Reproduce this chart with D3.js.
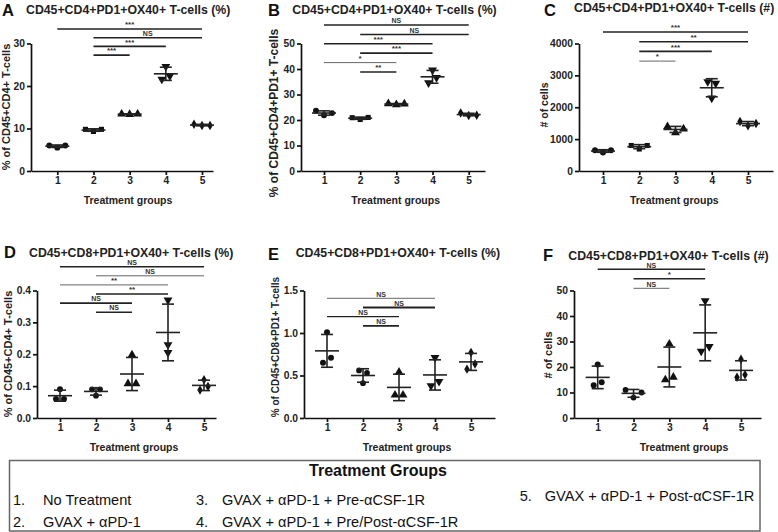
<!DOCTYPE html>
<html>
<head>
<meta charset="utf-8">
<script src="https://cdnjs.cloudflare.com/ajax/libs/d3/7.8.5/d3.min.js"></script>
<style>
  html, body { margin: 0; padding: 0; background: #fff; }
  svg { display: block; }
  text { font-family: "Liberation Sans", Arial, sans-serif; }
</style>
</head>
<body>
<svg id="chart" width="778" height="532"></svg>
<script>
// ---------------- DATA ----------------
const groups = [1, 2, 3, 4, 5];
const xAxisLabel = "Treatment groups";

// Panel A
const titleA = "CD45+CD4+PD1+OX40+ T-cells (%)";
const yLabelA = "% of CD45+CD4+ T-cells";
const yTicksA = [0, 10, 20, 30];
const valuesA = [[6.0, 5.5, 6.0], [9.8, 9.3, 9.8], [13.4, 13.3, 13.4], [24.6, 21.6, 22.4], [11.0, 10.7, 10.7]];
const sigA = [[1, 5, "***"], [2, 5, "NS"], [2, 4, "***"], [2, 3, "***"]];

// Panel B
const titleB = "CD45+CD4+PD1+OX40+ T-cells (%)";
const yLabelB = "% of CD45+CD4+PD1+ T-cells";
const yTicksB = [0, 10, 20, 30, 40, 50];
const valuesB = [[23.6, 21.9, 22.7], [20.9, 20.2, 21.0], [26.4, 26.0, 26.3], [39.6, 34.6, 36.6], [22.7, 21.8, 21.9]];
const sigB = [[1, 5, "NS"], [2, 5, "NS"], [1, 4, "***"], [2, 4, "***"], [1, 3, "*"], [2, 3, "**"]];

// Panel C
const titleC = "CD45+CD4+PD1+OX40+ T-cells (#)";
const yLabelC = "# of cells";
const yTicksC = [0, 1000, 2000, 3000, 4000];
const valuesC = [[650, 580, 650], [800, 690, 800], [1390, 1200, 1320], [2800, 2750, 2285], [1550, 1420, 1490]];
const sigC = [[1, 5, "***"], [2, 5, "**"], [2, 4, "***"], [2, 3, "*"]];

// Panel D
const titleD = "CD45+CD8+PD1+OX40+ T-cells (%)";
const yLabelD = "% of CD45+CD4+ T-cells";
const yTicksD = [0, 0.1, 0.2, 0.3, 0.4];
const valuesD = [[0.09, 0.06, 0.06], [0.09, 0.07, 0.09], [0.198, 0.108, 0.108], [0.37, 0.23, 0.205], [0.12, 0.088, 0.099]];
const sigD = [[1, 5, "NS"], [2, 5, "NS"], [1, 4, "**"], [2, 4, "**"], [1, 3, "NS"], [2, 3, "NS"]];

// Panel E
const titleE = "CD45+CD8+PD1+OX40+ T-cells (%)";
const yLabelE = "% of CD45+CD8+PD1+ T-cells";
const yTicksE = [0, 0.5, 1.0, 1.5];
const valuesE = [[1.01, 0.65, 0.71], [0.56, 0.41, 0.53], [0.54, 0.27, 0.27], [0.71, 0.38, 0.43], [0.77, 0.575, 0.635]];
const sigE = [[1, 4, "NS"], [2, 4, "NS"], [1, 3, "NS"], [2, 3, "NS"]];

// Panel F
const titleF = "CD45+CD8+PD1+OX40+ T-cells (#)";
const yLabelF = "# of cells";
const yTicksF = [0, 10, 20, 30, 40, 50];
const valuesF = [[21, 12.8, 14], [11, 8, 10], [29, 15, 16], [46, 26.2, 28], [23, 16, 17]];
const sigF = [[1, 4, "NS"], [2, 4, "*"], [2, 3, "NS"]];

// Legend
const legendTitle = "Treatment Groups";
const legendNums = ["1.", "2.", "3.", "4.", "5."];
const legendNames = ["No Treatment", "GVAX + \u03B1PD-1", "GVAX + \u03B1PD-1 + Pre-\u03B1CSF-1R",
  "GVAX + \u03B1PD-1 + Pre/Post-\u03B1CSF-1R", "GVAX + \u03B1PD-1 + Post-\u03B1CSF-1R"];

// ---------------- LAYOUT / STYLE ----------------
const sqrt3 = Math.sqrt(3);
const triDown = { draw(ctx, size) { const yv = -Math.sqrt(size / (sqrt3 * 3));
  ctx.moveTo(0, -yv * 2); ctx.lineTo(-sqrt3 * yv, yv); ctx.lineTo(sqrt3 * yv, yv); ctx.closePath(); } };
const shapesTop = [d3.symbolCircle, d3.symbolSquare, d3.symbolTriangle, triDown, d3.symbolDiamond];
const shapesBot = [d3.symbolCircle, d3.symbolCircle, d3.symbolTriangle, triDown, d3.symbolDiamond];
const markerSizes = [28, 26, 34, 34, 26];

const panels = [
  { letter: "A", title: titleA, yLabel: yLabelA, ticks: yTicksA, values: valuesA, sig: sigA, fmt: d3.format("d"),
    x0: 31, x1: 213, t1: 57.3, t5: 202, yTop: 43.5, yBot: 171, letterXY: [2, 15.5], titleXY: [26, 14],
    yLab: [6.5, 107, 11], xLab: [128, 204], sigTop: 29, sigStep: 8.7, sigW: [1.6, 1.6, 1.6, 1.6], shapes: shapesTop },
  { letter: "B", title: titleB, yLabel: yLabelB, ticks: yTicksB, values: valuesB, sig: sigB, fmt: d3.format("d"),
    x0: 301, x1: 485, t1: 324, t5: 468.7, yTop: 43.5, yBot: 171, letterXY: [268, 15.5], titleXY: [292.3, 14],
    yLab: [273.3, 113, 12], xLab: [395.7, 204], sigTop: 25, sigStep: 9.4, sigW: [1.5, 1.5, 1.6, 1.8, 0.9, 1.5], shapes: shapesTop },
  { letter: "C", title: titleC, yLabel: yLabelC, ticks: yTicksC, values: valuesC, sig: sigC, fmt: d3.format("d"),
    x0: 579, x1: 773, t1: 603, t5: 748, yTop: 43.5, yBot: 171, letterXY: [544, 15.5], titleXY: [574, 11.5],
    yLab: [544.7, 105, 10.5], xLab: [674.3, 204], sigTop: 32, sigStep: 9.7, sigW: [1.6, 1.6, 1.6, 0.9], shapes: shapesTop },
  { letter: "D", title: titleD, yLabel: yLabelD, ticks: yTicksD, values: valuesD, sig: sigD, fmt: d3.format(".1f"),
    x0: 37, x1: 216, t1: 60, t5: 204, yTop: 290.5, yBot: 418, letterXY: [4, 258], titleXY: [29, 257],
    yLab: [8.3, 354, 11], xLab: [134, 451], sigTop: 266.7, sigStep: 9.1, sigW: [1.6, 0.9, 0.9, 1.6, 1.6, 1.6], shapes: shapesBot },
  { letter: "E", title: titleE, yLabel: yLabelE, ticks: yTicksE, values: valuesE, sig: sigE, fmt: d3.format(".1f"),
    x0: 304, x1: 495, t1: 327, t5: 471, yTop: 290.5, yBot: 418, letterXY: [268, 260], titleXY: [295.7, 257],
    yLab: [275.3, 347, 10], xLab: [407, 451], sigTop: 298.3, sigStep: 9.2, sigW: [0.9, 1.8, 1.2, 1.6], shapes: shapesBot },
  { letter: "F", title: titleF, yLabel: yLabelF, ticks: yTicksF, values: valuesF, sig: sigF, fmt: d3.format("d"),
    x0: 574, x1: 761, t1: 597.7, t5: 741, yTop: 290.5, yBot: 418, letterXY: [543, 260.5], titleXY: [568.3, 259.5],
    yLab: [548, 355, 11], xLab: [684, 451], sigTop: 269.3, sigStep: 9.5, sigW: [1.6, 1.6, 0.9], shapes: shapesBot }
];

const svg = d3.select("#chart");

function offsets(vals, y) {
  const px = vals.map(v => y(v));
  const idx = d3.range(vals.length).sort((a, b) => px[a] - px[b]);
  const clusters = [];
  let cur = [idx[0]];
  for (let k = 1; k < idx.length; k++) {
    if (px[idx[k]] - px[idx[k - 1]] < 6) cur.push(idx[k]); else { clusters.push(cur); cur = [idx[k]]; }
  }
  clusters.push(cur);
  const off = new Array(vals.length).fill(0);
  clusters.forEach(c => {
    c.sort((a, b) => a - b);
    c.forEach((i, k) => off[i] = (k - (c.length - 1) / 2) * 8);
  });
  return off;
}

panels.forEach(p => {
  const g = svg.append("g");
  const x = d3.scaleLinear().domain([1, 5]).range([p.t1, p.t5]);
  const xAxisScale = d3.scaleLinear().domain([x.invert(p.x0), x.invert(p.x1)]).range([p.x0, p.x1]);
  const yMax = d3.max(p.ticks);
  const y = d3.scaleLinear().domain([0, yMax]).range([p.yBot, p.yTop]);

  // axes
  const xa = g.append("g").attr("transform", `translate(0,${p.yBot})`)
    .call(d3.axisBottom(xAxisScale).tickValues(groups).tickSize(4).tickPadding(2).tickSizeOuter(0).tickFormat(d3.format("d")));
  const ya = g.append("g").attr("transform", `translate(${p.x0},0)`)
    .call(d3.axisLeft(y).tickValues(p.ticks).tickSize(4).tickPadding(2).tickSizeOuter(0).tickFormat(p.fmt));
  [xa, ya].forEach(a => {
    a.selectAll("path, line").attr("stroke", "#111").attr("stroke-width", 1.7);
    a.selectAll("text").attr("font-size", 10.3).attr("font-weight", "bold").attr("fill", "#222")
      .attr("font-family", "'Liberation Sans', Arial, sans-serif");
  });

  // panel letter + title
  g.append("text").attr("x", p.letterXY[0]).attr("y", p.letterXY[1]).text(p.letter)
    .attr("font-size", 16.5).attr("font-weight", "bold").attr("fill", "#111");
  g.append("text").attr("x", p.titleXY[0]).attr("y", p.titleXY[1]).text(p.title)
    .attr("font-size", 12.3).attr("font-weight", "bold").attr("fill", "#222");

  // axis labels
  g.append("text").attr("transform", `translate(${p.yLab[0]},${p.yLab[1]}) rotate(-90)`)
    .attr("text-anchor", "middle").attr("dy", "0.35em").text(p.yLabel)
    .attr("font-size", p.yLab[2]).attr("font-weight", "bold").attr("fill", "#222");
  g.append("text").attr("x", p.xLab[0]).attr("y", p.xLab[1]).attr("text-anchor", "middle").text(xAxisLabel)
    .attr("font-size", 10.5).attr("font-weight", "bold").attr("fill", "#222");

  // significance brackets
  p.sig.forEach((s, i) => {
    const yy = p.sigTop + i * p.sigStep;
    const thin = p.sigW[i] < 1.2;
    g.append("line").attr("x1", x(s[0])).attr("x2", x(s[1])).attr("y1", yy).attr("y2", yy)
      .attr("stroke", thin ? "#555" : "#222").attr("stroke-width", p.sigW[i]);
    g.append("text").attr("x", (x(s[0]) + x(s[1])) / 2).attr("y", yy - 1.8).attr("text-anchor", "middle")
      .text(s[2]).attr("font-size", s[2] === "NS" ? 7 : 8).attr("font-weight", "bold").attr("fill", "#333");
  });

  // data: points + mean ± SD
  p.values.forEach((vals, gi) => {
    const cx = x(groups[gi]);
    const off = offsets(vals, y);
    const sym = d3.symbol().type(p.shapes[gi]).size(markerSizes[gi]);
    vals.forEach((v, i) => {
      g.append("path").attr("d", sym()).attr("transform", `translate(${cx + off[i]},${y(v)})`).attr("fill", "#111");
    });
    const m = d3.mean(vals), sd = d3.deviation(vals);
    const st = { stroke: "#222", w: 1.6 };
    g.append("line").attr("x1", cx - 12).attr("x2", cx + 12).attr("y1", y(m)).attr("y2", y(m))
      .attr("stroke", st.stroke).attr("stroke-width", st.w);
    g.append("line").attr("x1", cx).attr("x2", cx).attr("y1", y(m - sd)).attr("y2", y(m + sd))
      .attr("stroke", st.stroke).attr("stroke-width", st.w);
    [m - sd, m + sd].forEach(v => g.append("line").attr("x1", cx - 6).attr("x2", cx + 6).attr("y1", y(v)).attr("y2", y(v))
      .attr("stroke", st.stroke).attr("stroke-width", st.w));
  });
});

// ---------------- LEGEND ----------------
const lg = svg.append("g");
lg.append("rect").attr("x", 9.5).attr("y", 460.5).attr("width", 750.5).attr("height", 70.5)
  .attr("fill", "none").attr("stroke", "#666").attr("stroke-width", 1.5);
const lf = "Lato, 'Open Sans', sans-serif";
lg.append("text").attr("x", 378).attr("y", 476.3).attr("text-anchor", "middle").text(legendTitle)
  .attr("font-family", lf).attr("font-size", 16).attr("font-weight", "bold").attr("fill", "#111");
const itemPos = [[13, 43, 505], [13, 43, 526.5], [196, 222, 505], [196, 222, 526.5], [519.7, 544.7, 500.5]];
legendNames.forEach((name, i) => {
  lg.append("text").attr("x", itemPos[i][0]).attr("y", itemPos[i][2]).text(legendNums[i])
    .attr("font-family", lf).attr("font-size", 14.6).attr("fill", "#111");
  lg.append("text").attr("x", itemPos[i][1]).attr("y", itemPos[i][2]).text(name)
    .attr("font-family", lf).attr("font-size", 14.6).attr("fill", "#111");
});
</script>
</body>
</html>
